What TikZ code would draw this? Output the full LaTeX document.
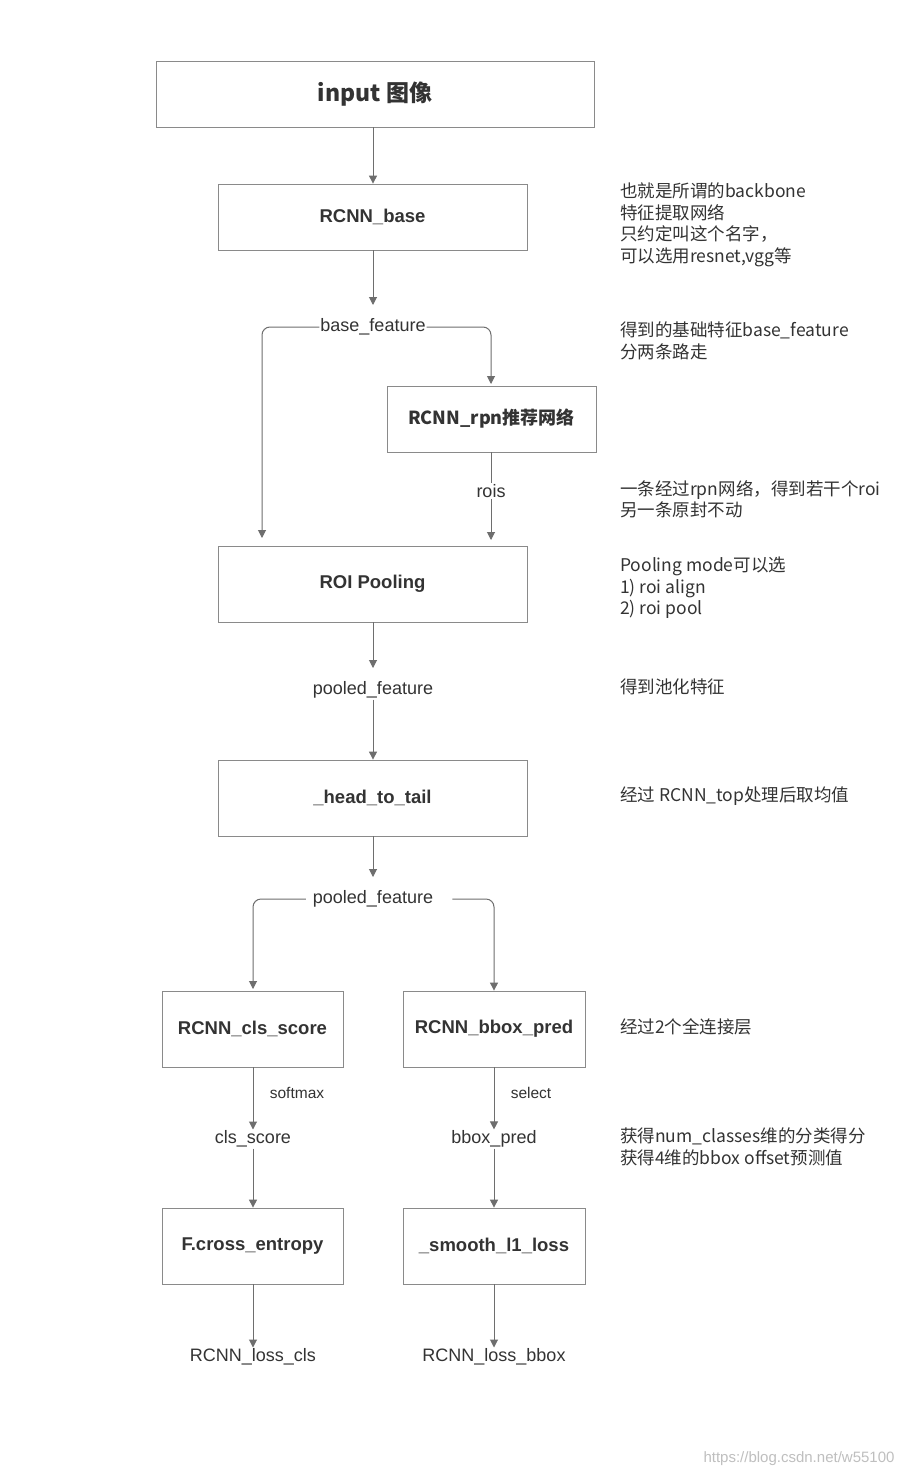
\documentclass[tikz,border=0pt]{standalone}
\usepackage{fontspec}
\setmainfont{Liberation Sans}
\newfontfamily\cjk{Noto Sans CJK SC}
\usetikzlibrary{arrows.meta}
\definecolor{ln}{HTML}{6E6E6E}
\definecolor{bd}{HTML}{8A8A8A}
\definecolor{tx}{HTML}{333333}
\begin{document}
\begin{tikzpicture}[x=1pt,y=1pt,
  box/.style={draw=bd,line width=0.8pt,fill=white,text=tx,font=\fontsize{18.5}{20}\selectfont\bfseries},
  lab/.style={text=tx,font=\fontsize{18}{20}\selectfont,inner sep=1pt},
  sm/.style={text=tx,font=\fontsize{15.5}{17}\selectfont,inner sep=1pt},
  note/.style={text=tx,font=\cjk\fontsize{17.5}{21.5}\selectfont,align=left,anchor=north west,inner sep=0pt},
  ar/.style={draw=ln,line width=1pt,-{Triangle[length=8pt,width=8pt]}},
  li/.style={draw=ln,line width=1pt}]
\useasboundingbox (0,0) rectangle (906,-1477);
\fill[white] (0,0) rectangle (906,-1477);
% boxes
\node[box,minimum width=438,minimum height=66,font=\cjk\fontsize{23}{25}\selectfont\bfseries] (in) at (375,-94) {input 图像};
\node[box,minimum width=309,minimum height=66] (base) at (372.5,-217) {RCNN\_base};
\node[box,minimum width=209,minimum height=66,font=\cjk\fontsize{18}{20}\selectfont\bfseries] (rpn) at (491.5,-419) {RCNN\_rpn推荐网络};
\node[box,minimum width=309,minimum height=76] (roi) at (372.5,-584) {ROI Pooling};
\node[box,minimum width=309,minimum height=76] (head) at (372.5,-798) {\_head\_to\_tail};
\node[box,minimum width=181,minimum height=76] (cls) at (252.5,-1029) {RCNN\_cls\_score};
\node[box,minimum width=182,minimum height=76] (bbox) at (494,-1029) {RCNN\_bbox\_pred};
\node[box,minimum width=181,minimum height=76] (ce) at (252.5,-1246) {F.cross\_entropy};
\node[box,minimum width=182,minimum height=76] (sl) at (494,-1246) {\_smooth\_l1\_loss};
% labels
\node[lab] (bf) at (373,-327) {base\_feature};
\node[lab] (rois) at (491,-491) {rois};
\node[lab] (pf1) at (373,-690) {pooled\_feature};
\node[lab] (pf2) at (373,-899) {pooled\_feature};
\node[sm] (smx) at (297,-1093) {softmax};
\node[sm] (sel) at (531,-1093) {select};
\node[lab] (cs) at (253,-1139) {cls\_score};
\node[lab] (bp) at (494,-1139) {bbox\_pred};
\node[lab] (lc) at (253,-1357) {RCNN\_loss\_cls};
\node[lab] (lb) at (494,-1357) {RCNN\_loss\_bbox};
\coordinate (a1) at (373,-305);
\coordinate (p1) at (373,-668);
\coordinate (p2) at (373,-877);
% connectors
\draw[ar] (a1 |- in.south) -- (a1 |- base.north);
\draw[ar] (a1 |- base.south) -- (a1);
\draw[ar,rounded corners=8pt] (bf.west) -- (262,-327) -- (262,-538);
\draw[ar,rounded corners=8pt] (bf.east) -- (491,-327) -- (491,-384);
\draw[li] (491,-452) -- (rois.north);
\draw[ar] (rois.south) -- (491,-540);
\draw[ar] (p1 |- roi.south) -- (p1);
\draw[ar] (pf1.south) -- (p1 |- head.north);
\draw[ar] (p1 |- head.south) -- (p2);
\draw[ar,rounded corners=8pt] ([xshift=-6pt]pf2.west) -- (253,-899) -- (253,-989);
\draw[ar,rounded corners=8pt] ([xshift=18pt]pf2.east) -- (494,-899) -- (bbox.north);
\draw[ar] (cs |- cls.south) -- (cs.north);
\draw[ar] (bbox.south) -- (bp.north);
\draw[ar] (cs.south) -- (cs |- ce.north);
\draw[ar] (bp.south) -- (sl.north);
\draw[ar] (lc |- ce.south) -- (lc.north);
\draw[ar] (sl.south) -- (lb.north);
% notes
\node[note] (n1) at (620,-183) {也就是所谓的backbone\\特征提取网络\\只约定叫这个名字，\\可以选用resnet,vgg等};
\node[note] (n2) at (620,-322) {得到的基础特征base\_feature\\分两条路走};
\node[note] (n3) at (620,-480) {一条经过rpn网络，得到若干个roi\\另一条原封不动};
\node[note] (n4) at (620,-557) {Pooling mode可以选\\1) roi align\\2) roi pool};
\node[note] (n5) at (620,-679) {得到池化特征};
\node[note] (n6) at (620,-787) {经过 RCNN\_top处理后取均值};
\node[note] (n7) at (620,-1018) {经过2个全连接层};
\node[note] (n8) at (620,-1128) {获得num\_classes维的分类得分\\获得4维的bbox offset预测值};
\node[text=black!25,font=\fontsize{15}{17}\selectfont,anchor=east] (wm) at (898,-1459) {https://blog.csdn.net/w55100};
\end{tikzpicture}
\end{document}
